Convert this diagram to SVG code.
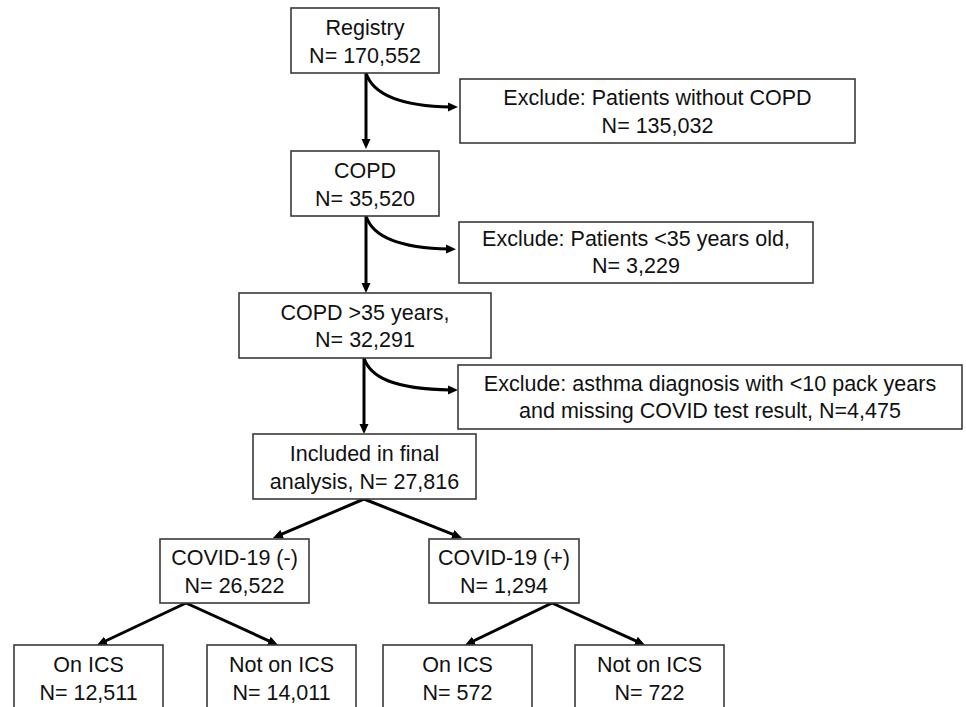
<svg xmlns="http://www.w3.org/2000/svg" width="966" height="707" viewBox="0 0 966 707">
<style>
.box{fill:#fff;stroke:#3a3a3a;stroke-width:1.6}
.t{font-family:"Liberation Sans",Arial,sans-serif;font-size:21.5px;fill:#111;text-anchor:middle}
.c{fill:none;stroke:#000;stroke-width:3}
</style>
<defs>
<marker id="ah" markerUnits="userSpaceOnUse" markerWidth="10" markerHeight="10" viewBox="0 0 10 10" refX="3" refY="5" orient="auto">
<path d="M0,0.5 L10,5 L0,9.5 z" fill="#000"/>
</marker>
</defs>
<rect width="966" height="707" fill="#fff"/>
<g id="connectors">
<path class="c" d="M366,73 V142" marker-end="url(#ah)"/>
<path class="c" d="M366,73 C372,92 395,106 451,107" marker-end="url(#ah)"/>
<path class="c" d="M366,216 V286" marker-end="url(#ah)"/>
<path class="c" d="M366,216 C372,235 395,248 449,249" marker-end="url(#ah)"/>
<path class="c" d="M364,358 V427" marker-end="url(#ah)"/>
<path class="c" d="M364,358 C370,377 393,389 451,390" marker-end="url(#ah)"/>
<path class="c" d="M364,499 L279.4,535.2" marker-end="url(#ah)"/>
<path class="c" d="M364,499 L455.5,535.4" marker-end="url(#ah)"/>
<path class="c" d="M186,603 L103.3,642" marker-end="url(#ah)"/>
<path class="c" d="M186,603 L271.6,642.1" marker-end="url(#ah)"/>
<path class="c" d="M552,603 L471.3,642" marker-end="url(#ah)"/>
<path class="c" d="M552,603 L638.6,642.1" marker-end="url(#ah)"/>
</g>
<g id="registry"><rect class="box" x="291" y="8" width="148" height="65"/><text class="t" x="365" y="35">Registry</text><text class="t" x="365" y="63">N= 170,552</text></g>
<g id="excl1"><rect class="box" x="460" y="79" width="395" height="64"/><text class="t" x="657.5" y="105">Exclude: Patients without COPD</text><text class="t" x="657.5" y="133">N= 135,032</text></g>
<g id="copd"><rect class="box" x="291" y="151" width="148" height="65"/><text class="t" x="365" y="178">COPD</text><text class="t" x="365" y="206">N= 35,520</text></g>
<g id="excl2"><rect class="box" x="459" y="222" width="354" height="61"/><text class="t" x="636" y="246">Exclude: Patients &lt;35 years old,</text><text class="t" x="636" y="273">N= 3,229</text></g>
<g id="copd35"><rect class="box" x="239" y="293" width="252" height="65"/><text class="t" x="365" y="320">COPD &gt;35 years,</text><text class="t" x="365" y="347">N= 32,291</text></g>
<g id="excl3"><rect class="box" x="458" y="365" width="504" height="64"/><text class="t" x="710" y="391">Exclude: asthma diagnosis with &lt;10 pack years</text><text class="t" x="710" y="418">and missing COVID test result, N=4,475</text></g>
<g id="included"><rect class="box" x="253" y="434" width="223" height="65"/><text class="t" x="364.5" y="461">Included in final</text><text class="t" x="364.5" y="489">analysis, N= 27,816</text></g>
<g id="covneg"><rect class="box" x="160" y="539" width="149" height="64"/><text class="t" x="234.5" y="565">COVID-19 (-)</text><text class="t" x="234.5" y="593">N= 26,522</text></g>
<g id="covpos"><rect class="box" x="429" y="539" width="150" height="64"/><text class="t" x="504" y="565">COVID-19 (+)</text><text class="t" x="504" y="593">N= 1,294</text></g>
<g id="neg_ics"><rect class="box" x="14" y="645" width="149" height="66"/><text class="t" x="88.5" y="672">On ICS</text><text class="t" x="88.5" y="700">N= 12,511</text></g>
<g id="neg_noics"><rect class="box" x="207" y="645" width="149" height="66"/><text class="t" x="281.5" y="672">Not on ICS</text><text class="t" x="281.5" y="700">N= 14,011</text></g>
<g id="pos_ics"><rect class="box" x="383" y="645" width="149" height="66"/><text class="t" x="457.5" y="672">On ICS</text><text class="t" x="457.5" y="700">N= 572</text></g>
<g id="pos_noics"><rect class="box" x="575" y="645" width="149" height="66"/><text class="t" x="649.5" y="672">Not on ICS</text><text class="t" x="649.5" y="700">N= 722</text></g>
</svg>
